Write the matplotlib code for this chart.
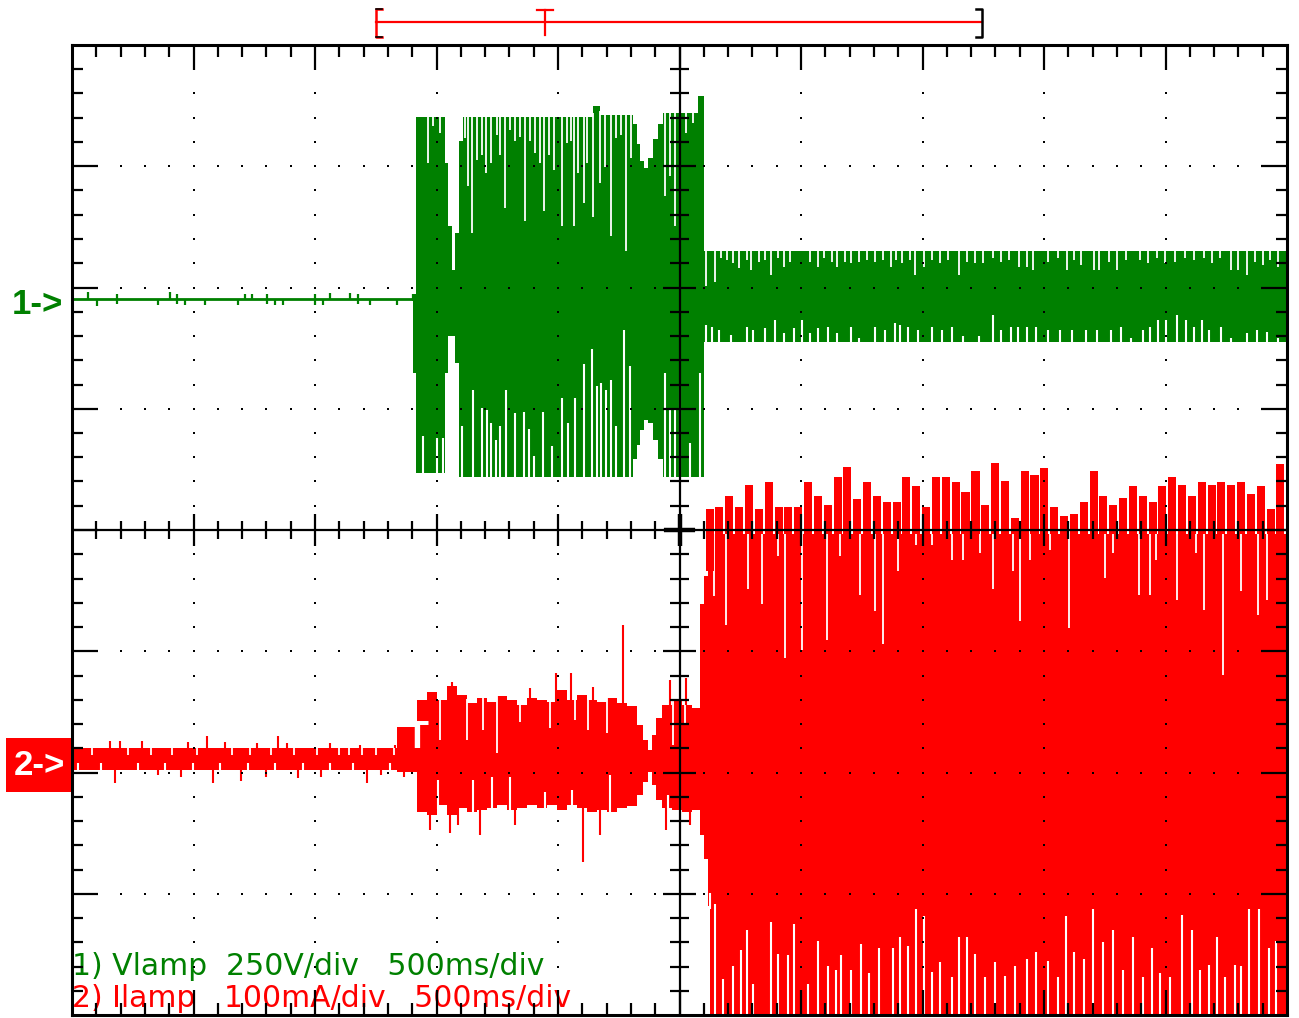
import numpy as np
import matplotlib
matplotlib.use("Agg")
import matplotlib.pyplot as plt
from matplotlib.collections import LineCollection
from matplotlib.patches import Rectangle

# ---------------- scope settings ----------------
MS_PER_DIV = 500.0      # time base
V_PER_DIV = 250.0       # channel 1 (Vlamp)
MA_PER_DIV = 100.0      # channel 2 (Ilamp)
CH1_POS = 1.905         # ground markers, divisions from screen centre
CH2_POS = -1.897
H_DIVS, V_DIVS = 10, 8

GREEN = "#008000"
RED = "#ff0000"

# ---------------- channel 1: lamp voltage (V), time in ms ----------------
ch1_idle_t = [0, 1405]
ch1_idle_v = [0, 0]
ch1_glitch_t = [66, 103, 185, 354, 403, 432, 465, 547, 683, 712, 741, 802, 835, 868,
                1000, 1033, 1062, 1144, 1177, 1226, 1337, 1403]
ch1_glitch_lo = [0, -14, -10, -12, 0, -10, -12, -12, -12, 0, 0, -10, -12, -12,
                 -12, -12, 0, 0, -10, -12, -12, -5]
ch1_glitch_hi = [14, 0, 10, 0, 14, 10, 0, 0, 0, 10, 10, 10, 0, 0,
                 10, 0, 12, 12, 10, 0, 0, 10]

# envelope (max / min per interval) of the ignition burst and the running lamp
ch1_env_t = [1405, 1416, 1535, 1549, 1563, 1576, 1594, 1611, 2146, 2173, 2310, 2324,
             2338, 2352, 2372, 2393, 2413, 2434, 2578, 2601, 5000]
ch1_env_hi = [10, 375, 280, 150, 60, 136, 325, 376, 398, 380, 360, 320,
              285, 270, 290, 330, 360, 383, 418, 100, 100]
ch1_env_lo = [-152, -359, -152, -77, -77, -132, -366, -366, -366, -366, -330, -300,
              -270, -250, -255, -290, -330, -366, -366, -89, -89]

# cycles whose positive peak stays below the envelope
ch1_peak_dip_t = [1467, 1487, 1515, 1618, 1631, 1645, 1668, 1686, 1704, 1723,
                  1748, 1762, 1782, 1803, 1823, 1844, 1865, 1885, 1906, 1926,
                  1943, 1963, 1984, 2018, 2039, 2052, 2066, 2084, 2105, 2121,
                  2142, 2173, 2194, 2217, 2238, 2258, 2279, 2299, 2441, 2459,
                  2483, 2502, 2527, 2557,
                  2607, 2645, 2672, 2696, 2721, 2745, 2777, 2794, 2826, 2850,
                  2875, 2907, 2931, 2956, 3037, 3069, 3093, 3126, 3150, 3182,
                  3207, 3239, 3272, 3304, 3336, 3369, 3393, 3417, 3450, 3471,
                  3506, 3539, 3571, 3604, 3652, 3685, 3717, 3749, 3790, 3822,
                  3855, 3898, 3928, 3955, 4017, 4057, 4093, 4122, 4154, 4206,
                  4227, 4268, 4300, 4336, 4394, 4430, 4465, 4498, 4540, 4579,
                  4616, 4660, 4692, 4725, 4770, 4799, 4835, 4870, 4903, 4932, 4961]
ch1_peak_dip_v = [280, 356, 342, 332, 232, 136, 287, 297, 260, 280,
                  339, 297, 187, 349, 325, 335, 160, 325, 301, 280,
                  181, 297, 267, 150, 321, 325, 150, 260, 198, 280,
                  170, 239, 273, 129, 332, 339, 98, 291, 212, 253,
                  150, 249, 342, 363,
                  26, 36, 84, 81, 74, 63, 81, 60, 77, 81,
                  50, 84, 67, 77, 77, 67, 84, 77, 67, 77,
                  74, 77, 81, 77, 81, 67, 81, 74, 81, 50,
                  67, 81, 74, 81, 50, 77, 74, 74, 84, 77,
                  81, 67, 67, 60, 77, 84, 60, 81, 70, 60,
                  60, 77, 60, 81, 81, 74, 84, 74, 77, 84,
                  81, 84, 74, 84, 60, 60, 50, 77, 70, 81, 67]
# cycles whose negative peak stays above the envelope
ch1_trough_dip_t = [1446, 1501, 1526, 1604, 1652, 1686, 1709, 1723, 1744, 1762,
                    1786, 1823, 1860, 1881, 1902, 1940, 1977, 2015, 2043, 2069,
                    2105, 2139, 2160, 2176, 2197, 2217, 2238, 2272, 2297, 2441,
                    2461, 2482, 2502, 2544, 2585,
                    2607, 2632, 2664, 2713, 2777, 2802, 2850, 2891, 2931, 2972,
                    3004, 3037, 3069, 3110, 3150, 3207, 3239, 3304, 3344, 3385,
                    3409, 3442, 3482, 3539, 3579, 3620, 3668, 3733, 3790, 3822,
                    3863, 3895, 3928, 3968, 4017, 4065, 4114, 4171, 4219, 4276,
                    4316, 4357, 4406, 4438, 4470, 4503, 4546, 4584, 4616, 4649,
                    4681, 4730, 4770, 4835, 4875, 4916, 4964]
ch1_trough_dip_v = [-283, -287, -287, -262, -187, -225, -228, -256, -290, -262,
                    -187, -235, -232, -269, -324, -232, -304, -204, -256, -204,
                    -135, -104, -180, -173, -187, -166, -262, -63, -139, -153,
                    -228, -228, -180, -297, -153,
                    -53, -57, -64, -74, -57, -64, -60, -43, -71, -60,
                    -43, -71, -60, -57, -71, -57, -81, -57, -64, -50,
                    -53, -57, -64, -57, -64, -57, -77, -77, -33, -64,
                    -57, -57, -57, -57, -64, -64, -64, -64, -64, -64,
                    -57, -81, -64, -57, -43, -43, -33, -43, -57, -43,
                    -64, -57, -81, -71, -64, -67, -81]

# ---------------- channel 2: lamp current (mA), time in ms ----------------
ch2_env_t = [0, 1337, 1420, 1461, 1502, 1543, 1584, 1625, 1667, 1708,
             1749, 1790, 1831, 1872, 1913, 1955, 1996, 2037, 2078, 2119,
             2160, 2202, 2243, 2284, 2325, 2350, 2370, 2387, 2403, 2428,
             2469, 2510, 2551, 2584, 2601, 2617, 2625, 5000]
ch2_env_hi = [9.9, 27.2, 49.5, 56, 49.5, 61, 53.6, 47, 51, 47.8,
              52.8, 49.5, 45.4, 51, 49.5, 47.8, 57.7, 49.5, 53.6, 49.5,
              47.8, 51, 47, 44.5, 28.9, 16.5, 8.2, 20.6, 34.6, 45.4,
              49.5, 45.4, 42.9, 129, 152, 156, 186, 186]
ch2_env_lo = [-8.2, -9.9, -42.9, -45.4, -37.1, -45.4, -39.6, -42.9, -41.2, -39.6,
              -37.1, -41.2, -39.6, -37.1, -39.6, -37.1, -41.2, -37.1, -39.6, -42.9,
              -41.2, -42.9, -39.6, -37.9, -28.9, -18.1, -9.9, -20.6, -33, -39.6,
              -41.2, -42.9, -41.2, -62, -82, -120, -215, -215]

# individual current peaks above the envelope of the running lamp
ch2_peak_t = [2624, 2664, 2705, 2746, 2786, 2827, 2867, 2908, 2948, 2989,
              3029, 3070, 3110, 3151, 3191, 3232, 3272, 3313, 3353, 3394,
              3434, 3475, 3515, 3556, 3596, 3637, 3677, 3718, 3758, 3799,
              3839, 3880, 3920, 3961, 4001, 4042, 4082, 4123, 4163, 4204,
              4244, 4285, 4325, 4366, 4406, 4447, 4487, 4528, 4568, 4609,
              4649, 4690, 4730, 4771, 4811, 4852, 4892, 4933, 4973]
ch2_peak_v = [207, 209, 218, 209, 227, 207, 229, 209, 209, 209,
              229, 218, 210, 233, 242, 215, 229, 218, 213, 213,
              233, 226, 209, 233, 233, 229, 221, 238, 210, 245,
              230, 200, 238, 235, 241, 209, 201, 203, 213, 238,
              218, 210, 216, 226, 218, 213, 226, 233, 227, 218,
              229, 227, 229, 227, 229, 219, 226, 207, 244]

# isolated spikes outside the envelope
ch2_spike_up_t = [156, 198, 288, 477, 556, 630, 761, 848, 885, 1062,
                  1185, 1329, 1564, 1885, 1992, 2053, 2144, 2267, 2461, 2527]
ch2_spike_up_v = [15.7, 15.7, 15.7, 14.8, 19.8, 14.8, 14.0, 19.8, 14.0, 14.0,
                  12.4, 12.4, 64, 59, 72, 72, 60, 111, 66, 68]
ch2_spike_dn_t = [177, 354, 449, 580, 695, 798, 930, 1025, 1214, 1272,
                  1366, 1473, 1556, 1588, 1679, 1823, 2103, 2173, 2445, 2543]
ch2_spike_dn_v = [-19, -12.4, -14, -19, -17.3, -14, -14.8, -14, -19, -12.4,
                  -14, -58, -60, -54, -62, -54, -84, -62, -58, -54]

# cycles whose peaks stay inside the envelope
ch2_peak_dip_t = [82, 230, 325, 412, 514, 658, 732, 819, 914, 1008,
                  1099, 1140, 1193, 1251, 1325,
                  1514, 1625, 1691, 1749, 1844, 1967, 2070, 2123, 2202, 2473, 2522,
                  2640, 2693, 2781, 2839, 2904, 2936, 3006, 3105, 3161, 3241,
                  3304, 3338, 3401, 3474, 3539, 3620, 3665, 3736, 3790, 3871,
                  3903, 3944, 4025, 4103, 4252, 4284, 4389, 4438, 4462, 4546,
                  4624, 4657, 4738, 4811, 4880, 4916]
ch2_peak_dip_v = [4.1, 4.1, 4.1, 4.1, 4.1, 4.1, 4.1, 4.1, 4.1, 4.1,
                  4.1, 4.1, 4.1, 4.1, 4.1,
                  16.5, 16.5, 24.7, 5.8, 31, 26.4, 33, 24.7, 22.3, 12.4, 28.9,
                  135, 111, 141, 129, 168, 84, 91, 99, 168, 136,
                  123, 96, 156, 177, 177, 165, 165, 171, 141, 156,
                  115, 165, 173, 109, 150, 171, 136, 136, 165, 132,
                  171, 124, 70, 139, 120, 132]
ch2_trough_dip_t = [25, 119, 272, 383, 498, 609, 724, 835, 951, 1062, 1156, 1309,
                    1506, 1650, 1728, 1802, 1947, 2058, 2214, 2453, 2502,
                    2624, 2648, 2680, 2721, 2753, 2777, 2802, 2875, 2907, 2948,
                    2972, 3029, 3069, 3110, 3142, 3166, 3207, 3247, 3280, 3320,
                    3377, 3409, 3442, 3474, 3506, 3539, 3571, 3620, 3652, 3685,
                    3717, 3758, 3798, 3839, 3879, 3928, 3968, 4017, 4057, 4090,
                    4122, 4163, 4203, 4244, 4284, 4325, 4365, 4406, 4446, 4478,
                    4519, 4568, 4608, 4640, 4681, 4713, 4746, 4786, 4811, 4843,
                    4883, 4924, 4956]
ch2_trough_dip_v = [-2.5, -2.5, -2.5, -2.5, -2.5, -2.5, -2.5, -2.5, -2.5, -2.5, -2.5, -2.5,
                    -16.5, -16.5, -14, -14, -26.4, -24.7, -12.4, -28.9, -24.7,
                    -110, -119, -181, -170, -157, -140, -185, -134, -160, -161,
                    -135, -185, -149, -170, -173, -161, -173, -152, -176, -155,
                    -155, -146, -153, -123, -129, -175, -167, -179, -146, -146,
                    -160, -179, -167, -178, -170, -164, -158, -166, -179, -129,
                    -158, -164, -123, -150, -140, -173, -146, -179, -155, -176,
                    -179, -128, -140, -173, -169, -146, -179, -169, -170, -123,
                    -123, -155, -149]

# acquisition window / trigger position (ms)
mem_window = [1250, 3745]
trigger_t = 1946
ch2_trigger_t = 1420
ch2_trigger_level = 18.0


# ---------------- helpers ----------------
def tx(t):
    return np.asarray(t, float) / MS_PER_DIV


def y1(v):
    return CH1_POS + np.asarray(v, float) / V_PER_DIV


def y2(i):
    return CH2_POS + np.asarray(i, float) / MA_PER_DIV


def edge_at(env_t, env_v, t):
    idx = np.searchsorted(env_t, t, side="right") - 1
    idx = np.clip(idx, 0, len(env_v) - 1)
    return np.asarray(env_v, float)[idx]


def draw_trace(ax, ymap, color, env_t, env_hi, env_lo,
               pdip_t, pdip_v, tdip_t, tdip_v):
    ax.fill_between(tx(env_t), ymap(env_lo), ymap(env_hi), step="post",
                    color=color, lw=0, zorder=2)
    top = edge_at(env_t, env_hi, pdip_t)
    ax.vlines(tx(pdip_t), ymap(pdip_v), ymap(top) + 0.03, colors="white",
              lw=1.3, zorder=2.2)
    bot = edge_at(env_t, env_lo, tdip_t)
    ax.vlines(tx(tdip_t), ymap(bot) - 0.03, ymap(tdip_v), colors="white",
              lw=1.5, zorder=2.2)


# ---------------- figure ----------------
fig = plt.figure(figsize=(12.99, 10.18), dpi=100)
ax = fig.add_axes([72 / 1299, 3 / 1018, 1215 / 1299, 970 / 1018])
ax.set_xlim(0, H_DIVS)
ax.set_ylim(-V_DIVS / 2, V_DIVS / 2)
ax.set_xticks([])
ax.set_yticks([])
for sp in ax.spines.values():
    sp.set_linewidth(2.2)
    sp.set_zorder(6)

# channel 1
ax.plot(tx(ch1_idle_t), y1(ch1_idle_v), color=GREEN, lw=2.0, zorder=2,
        solid_capstyle="butt")
ax.vlines(tx(ch1_glitch_t), y1(ch1_glitch_lo), y1(ch1_glitch_hi),
          colors=GREEN, lw=1.6, zorder=2)
draw_trace(ax, y1, GREEN, ch1_env_t, ch1_env_hi, ch1_env_lo,
           ch1_peak_dip_t, ch1_peak_dip_v, ch1_trough_dip_t, ch1_trough_dip_v)

# channel 2
draw_trace(ax, y2, RED, ch2_env_t, ch2_env_hi, ch2_env_lo,
           ch2_peak_dip_t, ch2_peak_dip_v, ch2_trough_dip_t, ch2_trough_dip_v)
core = edge_at(ch2_env_t, ch2_env_hi, ch2_peak_t)
ax.bar(tx(ch2_peak_t), y2(ch2_peak_v) - y2(core), bottom=y2(core),
       width=0.82 * 40.5 / MS_PER_DIV, color=RED, lw=0, zorder=2.4)
ax.vlines(tx(ch2_spike_up_t), y2(edge_at(ch2_env_t, ch2_env_hi, ch2_spike_up_t)),
          y2(ch2_spike_up_v), colors=RED, lw=1.5, zorder=2.4)
ax.vlines(tx(ch2_spike_dn_t), y2(edge_at(ch2_env_t, ch2_env_lo, ch2_spike_dn_t)),
          y2(ch2_spike_dn_v), colors=RED, lw=1.5, zorder=2.4)

# ---------------- graticule ----------------
sub = np.arange(1, H_DIVS * 5) * 0.2
vsub = -V_DIVS / 2 + np.arange(1, V_DIVS * 5) * 0.2
dx, dy = [], []
for j in range(1, V_DIVS):
    if j == V_DIVS // 2:
        continue
    dx.extend(sub)
    dy.extend([j - V_DIVS / 2] * len(sub))
for i in range(1, H_DIVS):
    if i == H_DIVS // 2:
        continue
    dx.extend([i] * len(vsub))
    dy.extend(vsub)
ax.scatter(dx, dy, s=3.2, marker="s", color="black", linewidths=0, zorder=5)

segs = []
xt = np.arange(1, H_DIVS * 5) * 0.2
yt = -V_DIVS / 2 + np.arange(1, V_DIVS * 5) * 0.2
top, bot = V_DIVS / 2, -V_DIVS / 2
for x in xt:
    major = abs(x - round(x)) < 1e-6
    L = 0.205 if major else 0.1
    segs.append([(x, top), (x, top - L)])
    segs.append([(x, bot), (x, bot + L)])
    c = 0.13 if major else 0.075
    segs.append([(x, -c), (x, c)])
for y in yt:
    major = abs(y - round(y)) < 1e-6
    L = 0.215 if major else 0.09
    segs.append([(0, y), (L, y)])
    segs.append([(H_DIVS, y), (H_DIVS - L, y)])
    c = 0.135 if major else 0.075
    segs.append([(H_DIVS / 2 - c, y), (H_DIVS / 2 + c, y)])
segs.append([(0, 0), (H_DIVS, 0)])
segs.append([(H_DIVS / 2, bot), (H_DIVS / 2, top)])
ax.add_collection(LineCollection(segs, colors="black", linewidths=1.6, zorder=5))
ax.add_collection(LineCollection([[(H_DIVS / 2 - 0.13, 0), (H_DIVS / 2 + 0.13, 0)],
                                  [(H_DIVS / 2, -0.13), (H_DIVS / 2, 0.13)]],
                                 colors="black", linewidths=3.2, zorder=5))

# ---------------- memory window / trigger marker ----------------
ybr = 4.19
x0, x1 = tx(mem_window)
ax.plot([x0, x1], [ybr, ybr], color=RED, lw=1.6, clip_on=False)
ax.plot([x0 + 0.05, x0, x0, x0 + 0.05], [4.3, 4.3, 4.07, 4.07], color=RED,
        lw=1.8, clip_on=False)
ax.plot([x0, x0 + 0.05], [4.3, 4.3], color="black", lw=1.2, clip_on=False)
ax.plot([x0, x0 + 0.05], [4.07, 4.07], color="black", lw=1.2, clip_on=False)
ax.plot([x1 - 0.05, x1, x1, x1 - 0.05], [4.3, 4.3, 4.07, 4.07], color="black",
        lw=1.8, clip_on=False)
xtg = trigger_t / MS_PER_DIV
ax.plot([xtg - 0.066, xtg + 0.066], [4.29, 4.29], color=RED, lw=1.6, clip_on=False)
ax.plot([xtg, xtg], [4.29, 4.08], color=RED, lw=1.6, clip_on=False)

# ---------------- channel markers and legend ----------------
ax.text(-0.07, 1.856, "1->", color=GREEN, fontsize=25, fontweight="bold",
        family=["Liberation Sans", "DejaVu Sans"], ha="right", va="center",
        clip_on=False)
ax.add_patch(Rectangle((-0.54, -2.16), 0.54, 0.445, facecolor=RED,
                       edgecolor="none", clip_on=False, zorder=3))
ax.text(-0.27, -1.94, "2->", color="white", fontsize=25, fontweight="bold",
        family=["Liberation Sans", "DejaVu Sans"], ha="center", va="center",
        clip_on=False, zorder=4)
ax.text(tx(ch2_trigger_t), y2(ch2_trigger_level), "T", color="white",
        fontsize=27, fontweight="bold", family=["Liberation Sans", "DejaVu Sans"],
        ha="center", va="center", zorder=4)

ax.text(0.0, -3.67, "1) Vlamp  250V/div   500ms/div", color=GREEN, fontsize=21.5,
        family=["DejaVu Sans"], ha="left", va="baseline", zorder=4)
ax.text(0.0, -3.935, "2) Ilamp   100mA/div   500ms/div", color=RED, fontsize=21.5,
        family=["DejaVu Sans"], ha="left", va="baseline", zorder=4)

fig.savefig("out.png", dpi=100)
